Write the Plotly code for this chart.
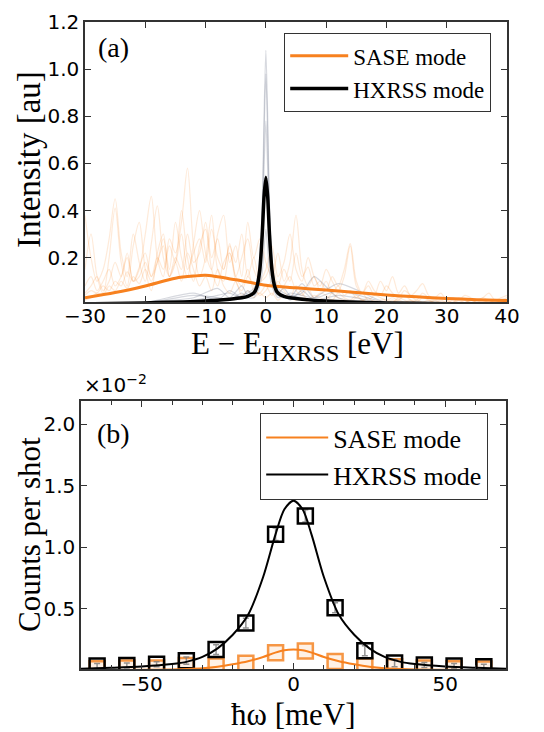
import plotly.graph_objects as go

W, H = 544, 732

# ---------------- Panel (a) data ----------------
# individual SASE shots, sampled every 1 eV from -30 to 40
shot_x = list(range(-30, 41))
sase_shot_1 = [0.15,0.30,0.12,0.05,0.20,0.41,0.18,0.08,0.25,0.35,
               0.15,0.06,0.22,0.30,0.12,0.18,0.40,0.20,0.10,0.25,
               0.32,0.15,0.08,0.18,0.22,0.10,0.06,0.12,0.08,0.04,
               0.06,0.10,0.05,0.08,0.12,0.06,0.04,0.07,0.03,0.05,
               0.04,0.02,0.05,0.03,0.02,0.04,0.02,0.03,0.01,0.02,
               0.02,0.01,0.03,0.02,0.01,0.02,0.01,0.01,0.02,0.01,
               0.01,0.01,0.02,0.01,0.01,0.01,0.02,0.01,0.01,0.01,0.02]
sase_shot_2 = [0.05,0.08,0.12,0.06,0.10,0.18,0.12,0.22,0.10,0.15,
               0.30,0.46,0.20,0.12,0.28,0.22,0.35,0.58,0.25,0.12,
               0.20,0.38,0.15,0.10,0.22,0.12,0.08,0.15,0.06,0.05,
               0.08,0.04,0.10,0.06,0.03,0.08,0.05,0.02,0.04,0.03,
               0.02,0.05,0.03,0.02,0.01,0.03,0.02,0.01,0.02,0.01,
               0.01,0.02,0.01,0.01,0.02,0.01,0.01,0.01,0.01,0.01,
               0.01,0.01,0.01,0.02,0.01,0.01,0.01,0.01,0.02,0.01,0.01]
sase_shot_3 = [0.02,0.03,0.05,0.04,0.08,0.06,0.10,0.07,0.12,0.09,
               0.15,0.10,0.18,0.25,0.12,0.20,0.15,0.30,0.18,0.22,
               0.35,0.20,0.28,0.15,0.25,0.18,0.30,0.12,0.20,0.10,
               0.15,0.25,0.12,0.18,0.30,0.15,0.10,0.20,0.12,0.08,
               0.15,0.10,0.06,0.12,0.25,0.08,0.05,0.10,0.06,0.04,
               0.08,0.05,0.03,0.06,0.04,0.02,0.05,0.03,0.02,0.03,
               0.02,0.01,0.03,0.02,0.01,0.02,0.03,0.02,0.01,0.02,0.03]
sase_shot_4 = [0.38,0.20,0.10,0.15,0.28,0.45,0.22,0.12,0.30,0.18,
               0.10,0.26,0.42,0.20,0.12,0.18,0.10,0.22,0.15,0.08,
               0.12,0.06,0.15,0.08,0.05,0.10,0.04,0.06,0.03,0.05,
               0.03,0.05,0.02,0.04,0.03,0.02,0.03,0.01,0.02,0.02,
               0.01,0.02,0.01,0.02,0.01,0.01,0.02,0.01,0.01,0.01,
               0.01,0.01,0.02,0.01,0.01,0.01,0.01,0.02,0.01,0.01,
               0.01,0.01,0.01,0.01,0.02,0.01,0.01,0.01,0.01,0.01,0.01]
sase_shot_5 = [0.08,0.12,0.06,0.10,0.15,0.08,0.12,0.20,0.10,0.16,
               0.22,0.12,0.18,0.28,0.15,0.35,0.20,0.12,0.26,0.40,
               0.22,0.15,0.30,0.38,0.18,0.25,0.12,0.35,0.20,0.28,
               0.18,0.12,0.22,0.10,0.18,0.38,0.15,0.08,0.12,0.06,
               0.10,0.05,0.08,0.04,0.06,0.03,0.05,0.02,0.04,0.03,
               0.02,0.03,0.02,0.04,0.02,0.01,0.03,0.02,0.01,0.02,
               0.01,0.02,0.01,0.01,0.02,0.01,0.01,0.02,0.01,0.01,0.01]
sase_shot_6 = [0.04,0.06,0.05,0.08,0.06,0.10,0.08,0.14,0.10,0.12,
               0.18,0.12,0.20,0.15,0.25,0.18,0.30,0.15,0.22,0.28,
               0.18,0.32,0.20,0.15,0.26,0.12,0.20,0.28,0.15,0.10,
               0.12,0.18,0.08,0.15,0.10,0.22,0.12,0.16,0.08,0.10,
               0.06,0.12,0.08,0.15,0.26,0.10,0.05,0.08,0.04,0.10,
               0.06,0.12,0.05,0.08,0.04,0.06,0.09,0.04,0.03,0.05,
               0.02,0.03,0.02,0.04,0.03,0.02,0.03,0.05,0.02,0.03,0.04]
sase_shots = [sase_shot_1, sase_shot_2, sase_shot_3, sase_shot_4, sase_shot_5, sase_shot_6]

# individual HXRSS shots on a finer grid near 0 eV
hx_x = [-30,-20,-12,-8,-6,-4,-3,-2,-1.5,-1,-0.6,-0.3,0,0.3,0.6,1,1.5,2,3,4,6,8,12,20,40]
hx_shot_1 = [0.005,0.008,0.015,0.03,0.02,0.04,0.05,0.07,0.10,0.20,0.42,0.80,1.08,0.80,0.42,0.20,0.10,0.07,0.05,0.04,0.03,0.02,0.012,0.008,0.005]
hx_shot_2 = [0.004,0.010,0.05,0.02,0.06,0.03,0.04,0.06,0.09,0.18,0.38,0.72,0.98,0.72,0.38,0.18,0.09,0.06,0.04,0.03,0.09,0.03,0.06,0.010,0.004]
hx_shot_3 = [0.006,0.012,0.03,0.07,0.03,0.08,0.04,0.05,0.08,0.15,0.30,0.58,0.78,0.58,0.30,0.15,0.08,0.05,0.07,0.04,0.05,0.12,0.03,0.010,0.005]
hx_shot_4 = [0.005,0.010,0.02,0.04,0.05,0.03,0.06,0.04,0.06,0.11,0.22,0.42,0.55,0.42,0.22,0.11,0.06,0.04,0.03,0.05,0.04,0.03,0.09,0.010,0.004]
hx_shot_5 = [0.004,0.008,0.04,0.03,0.02,0.05,0.03,0.03,0.05,0.08,0.14,0.24,0.32,0.24,0.14,0.08,0.05,0.03,0.04,0.02,0.06,0.02,0.04,0.008,0.004]
hx_shots = [hx_shot_1, hx_shot_2, hx_shot_3, hx_shot_4, hx_shot_5]

# averaged spectra
sase_mean_x = [-30,-25,-20,-15,-12,-10,-5,0,5,10,15,20,25,30,35,40]
sase_mean_y = [0.030,0.052,0.080,0.113,0.122,0.125,0.106,0.083,0.072,0.063,0.052,0.042,0.034,0.027,0.022,0.018]
hx_mean_x = [-30,-20,-10,-6,-4,-3,-2,-1.5,-1,-0.6,-0.3,0,0.3,0.6,1,1.5,2,3,4,6,10,20,30,40]
hx_mean_y = [0.004,0.008,0.016,0.024,0.030,0.036,0.050,0.075,0.15,0.30,0.46,0.54,0.46,0.30,0.15,0.075,0.050,0.036,0.030,0.024,0.016,0.008,0.005,0.004]

# ---------------- Panel (b) data (units of 1e-2 counts/shot) ----------------
omega_pts = [-64.7,-54.9,-45.1,-35.3,-25.5,-15.7,-5.9,3.9,13.7,23.5,33.3,43.1,52.9,62.7]
hx_counts = [0.037,0.040,0.050,0.080,0.170,0.385,1.107,1.256,0.510,0.160,0.060,0.045,0.037,0.030]
hx_err =    [0.02,0.02,0.02,0.03,0.04,0.04,0.05,0.05,0.04,0.04,0.03,0.02,0.02,0.02]
sase_counts = [0.015,0.020,0.020,0.040,0.037,0.058,0.145,0.158,0.072,0.037,0.030,0.020,0.015,0.012]

fit_x = [-70,-60,-50,-40,-35,-30,-25,-20,-15,-10,-6,-3,0,3,6,10,15,20,25,30,35,40,50,60,70]
hx_fit = [0.015,0.022,0.032,0.052,0.072,0.11,0.18,0.29,0.45,0.76,1.10,1.31,1.38,1.31,1.10,0.76,0.45,0.29,0.18,0.11,0.072,0.052,0.032,0.022,0.015]
sase_fit = [0.003,0.004,0.005,0.008,0.012,0.018,0.030,0.050,0.075,0.110,0.145,0.165,0.170,0.165,0.145,0.110,0.075,0.050,0.030,0.018,0.012,0.008,0.005,0.004,0.003]

# ---------------- styling ----------------
ORANGE = "#f7811f"
SERIF = "Liberation Serif"
SANS = "DejaVu Sans"
FRAME = "#333333"

fig = go.Figure()

for s in sase_shots:
    fig.add_trace(go.Scatter(x=shot_x, y=s, mode="lines", xaxis="x", yaxis="y",
                             line=dict(color="rgba(247,129,31,0.17)", width=1.2, shape="spline", smoothing=0.9),
                             showlegend=False, hoverinfo="skip"))
for s in hx_shots:
    fig.add_trace(go.Scatter(x=hx_x, y=s, mode="lines", xaxis="x", yaxis="y",
                             line=dict(color="rgba(110,120,140,0.28)", width=1.2, shape="spline", smoothing=0.7),
                             showlegend=False, hoverinfo="skip"))

fig.add_trace(go.Scatter(x=sase_mean_x, y=sase_mean_y, mode="lines", name="SASE mode",
                         xaxis="x", yaxis="y", legend="legend",
                         line=dict(color=ORANGE, width=3, shape="spline", smoothing=0.8)))
fig.add_trace(go.Scatter(x=hx_mean_x, y=hx_mean_y, mode="lines", name="HXRSS mode",
                         xaxis="x", yaxis="y", legend="legend",
                         line=dict(color="black", width=3.5, shape="spline", smoothing=0.6)))

# panel (b)
fig.add_trace(go.Scatter(x=omega_pts, y=sase_counts, mode="markers", xaxis="x2", yaxis="y2",
                         marker=dict(symbol="square", size=15, color="rgba(247,140,50,0.12)",
                                     line=dict(width=2.5, color="rgba(245,140,50,0.9)")),
                         showlegend=False, hoverinfo="skip"))
fig.add_trace(go.Scatter(x=omega_pts, y=hx_counts, mode="markers", xaxis="x2", yaxis="y2",
                         error_y=dict(type="data", array=hx_err, color="rgba(120,120,120,0.8)",
                                      thickness=1.5, width=3),
                         marker=dict(symbol="square-open", size=15, color="black",
                                     line=dict(width=2.5)),
                         showlegend=False, hoverinfo="skip"))
fig.add_trace(go.Scatter(x=fit_x, y=sase_fit, mode="lines", name="SASE mode",
                         xaxis="x2", yaxis="y2", legend="legend2",
                         line=dict(color=ORANGE, width=2, shape="spline", smoothing=0.8)))
fig.add_trace(go.Scatter(x=fit_x, y=hx_fit, mode="lines", name="HXRSS mode",
                         xaxis="x2", yaxis="y2", legend="legend2",
                         line=dict(color="black", width=2, shape="spline", smoothing=0.8)))

def px_x(p):
    return p / W

def px_y(p):
    return 1 - p / H

axis_common = dict(showgrid=False, zeroline=False, showline=True, linecolor=FRAME, linewidth=1.5,
                   mirror="ticks", ticks="inside", tickcolor=FRAME, tickwidth=1.2, ticklen=6,
                   automargin=False,
                   tickfont=dict(family=SANS, size=20, color="black"))

def label(text, x, y, size, family=SERIF, angle=0, xanchor="center", yanchor="middle"):
    return dict(text=text, x=px_x(x), y=px_y(y), xref="paper", yref="paper",
                xanchor=xanchor, yanchor=yanchor, textangle=angle, showarrow=False,
                font=dict(family=family, size=size, color="black"))

fig.update_layout(
    width=W, height=H, margin=dict(l=0, r=0, t=0, b=0, autoexpand=False),
    paper_bgcolor="white", plot_bgcolor="white",
    xaxis=dict(domain=[px_x(85), px_x(507)], range=[-30, 40], tickvals=[-30,-20,-10,0,10,20,30,40],
               anchor="y", ticklabelstandoff=-5, **axis_common),
    yaxis=dict(domain=[px_y(302), px_y(22)], range=[0.012, 1.2], tickvals=[0.2,0.4,0.6,0.8,1.0,1.2],
               ticktext=["0.2","0.4","0.6","0.8","1.0","1.2"], anchor="x", **axis_common),
    xaxis2=dict(domain=[px_x(81), px_x(506)], range=[-70, 70], tickvals=[-50, 0, 50],
                minor=dict(dtick=10, tick0=0, ticks="inside", ticklen=4, tickcolor=FRAME, tickwidth=1.2),
                anchor="y2", ticklabelstandoff=-4, **axis_common),
    yaxis2=dict(domain=[px_y(669), px_y(401)], range=[0.012, 2.19], tickvals=[0.5, 1.0, 1.5, 2.0],
                ticktext=["0.5","1.0","1.5","2.0"], anchor="x2", **axis_common),
    legend=dict(x=px_x(284), y=px_y(33), xanchor="left", yanchor="top",
                bordercolor=FRAME, borderwidth=1.2, bgcolor="white",
                font=dict(family=SERIF, size=23, color="black"), itemwidth=58, tracegroupgap=4),
    legend2=dict(x=px_x(260), y=px_y(413), xanchor="left", yanchor="top",
                 bordercolor=FRAME, borderwidth=1.2, bgcolor="white",
                 font=dict(family=SERIF, size=26, color="black"), itemwidth=62, tracegroupgap=4),
    annotations=[
        label("(a)", 96, 48, 28, xanchor="left"),
        label("(b)", 95, 433, 28, xanchor="left"),
        label("Intensity [au]", 29, 160, 33, angle=-90),
        label('E − E<sub><span style="font-size:24px">HXRSS</span></sub> [eV]', 297, 346, 31),
        label("Counts per shot", 29, 535, 31, angle=-90),
        label("ħω [meV]", 293, 714, 31),
        label("×10<sup>−2</sup>", 82, 399, 20, family=SANS, xanchor="left", yanchor="bottom"),
    ],
)

fig.write_html("out.html", config={"displayModeBar": False},
               post_script="document.body.style.margin='0';")
